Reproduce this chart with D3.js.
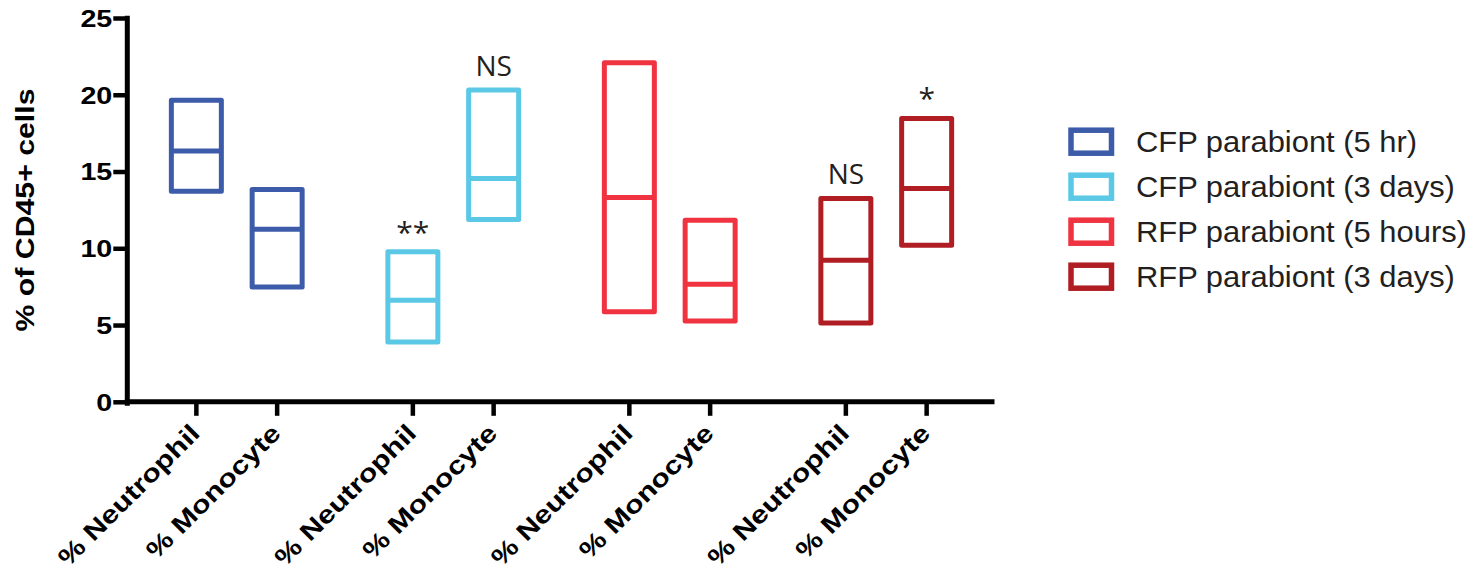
<!DOCTYPE html>
<html>
<head>
<meta charset="utf-8">
<script src="https://cdn.jsdelivr.net/npm/d3@7"></script>
<style>
  html, body { margin: 0; padding: 0; background: #ffffff; }
  svg { display: block; }
</style>
</head>
<body>
<svg id="chart" width="1481" height="569"></svg>
<script>
// ---- data ----
const groups = ["CFP parabiont (5 hr)", "CFP parabiont (3 days)", "RFP parabiont (5 hours)", "RFP parabiont (3 days)"];
const cellTypes = ["% Neutrophil", "% Monocyte"];
// per group: [Neutrophil, Monocyte]
const maxValues = [[19.65, 13.83], [9.77, 20.31], [22.09, 11.83], [13.25, 18.46]];
const medianValues = [[16.33, 11.24], [6.62, 14.55], [13.31, 7.66], [9.22, 13.90]];
const minValues = [[13.72, 7.48], [3.90, 11.88], [5.86, 5.27], [5.14, 10.20]];
const annotations = [["", ""], ["**", "NS"], ["", ""], ["NS", "*"]];
const groupColors = ["#3c5ba9", "#5bc9e6", "#ef3340", "#b01e24"];
const yTicks = [0, 5, 10, 15, 20, 25];
const yLabel = "% of CD45+ cells";

// ---- layout ----
const svg = d3.select("#chart");
const axisX = 127.3, axisY = 401.8, yTop = 18;
const y = d3.scaleLinear().domain([0, 25]).range([axisY, yTop]);
const xGroup = d3.scaleBand().domain(d3.range(groups.length)).range([128.5, 994.5]).padding(0);
const xCell = d3.scalePoint().domain(d3.range(cellTypes.length)).range([0, xGroup.bandwidth()]).padding(0.84);
const xPos = (g, c) => xGroup(g) + xCell(c);
const boxW = 50;
const boldFont = "'Liberation Sans', Arial, Helvetica, sans-serif";

function stretchText(sel, factor) {
  sel.each(function () {
    const len = this.getComputedTextLength();
    d3.select(this).attr("textLength", len * factor).attr("lengthAdjust", "spacingAndGlyphs");
  });
}

// ---- y axis ----
const yAxis = d3.axisLeft(y).tickValues(yTicks).tickSize(14).tickPadding(1).tickFormat(d3.format("d"));
const gy = svg.append("g").attr("transform", `translate(${axisX},0)`).call(yAxis);
gy.select(".domain").remove();
gy.selectAll(".tick line").attr("stroke", "#000").attr("stroke-width", 4.5);
gy.selectAll(".tick text")
  .attr("font-family", boldFont).attr("font-weight", "bold").attr("font-size", 23.5)
  .attr("fill", "#000").attr("dy", "0.36em")
  .call(stretchText, 1.22);
svg.append("line")
  .attr("x1", axisX).attr("x2", axisX).attr("y1", yTop - 2.2).attr("y2", axisY + 4)
  .attr("stroke", "#000").attr("stroke-width", 5);

// ---- x axis ----
svg.append("line")
  .attr("x1", axisX - 2.5).attr("x2", xGroup.range()[1]).attr("y1", axisY).attr("y2", axisY)
  .attr("stroke", "#000").attr("stroke-width", 5);

const cells = [];
groups.forEach((g, gi) => cellTypes.forEach((c, ci) => cells.push({ gi, ci })));

svg.append("g").selectAll("line").data(cells).join("line")
  .attr("x1", d => xPos(d.gi, d.ci)).attr("x2", d => xPos(d.gi, d.ci))
  .attr("y1", axisY).attr("y2", axisY + 14)
  .attr("stroke", "#000").attr("stroke-width", 4.5);

svg.append("g").selectAll("text").data(cells).join("text")
  .attr("transform", d => `translate(${xPos(d.gi, d.ci) + 5},${axisY + 33}) rotate(-45)`)
  .attr("text-anchor", "end")
  .attr("font-family", boldFont).attr("font-weight", "bold").attr("font-size", 25)
  .attr("fill", "#000")
  .text(d => cellTypes[d.ci])
  .call(stretchText, 1.22);

// y axis title
svg.append("text")
  .attr("transform", `translate(33.5,${(88.3 + 331.7) / 2}) rotate(-90)`)
  .attr("text-anchor", "middle")
  .attr("font-family", boldFont).attr("font-weight", "bold").attr("font-size", 25)
  .attr("fill", "#000")
  .text(yLabel)
  .call(stretchText, 1.21);

// ---- boxes ----
const gBoxes = svg.append("g");
cells.forEach(d => {
  const cx = xPos(d.gi, d.ci);
  const col = groupColors[d.gi];
  const yMax = y(maxValues[d.gi][d.ci]);
  const yMin = y(minValues[d.gi][d.ci]);
  const yMed = y(medianValues[d.gi][d.ci]);
  gBoxes.append("rect")
    .attr("x", cx - boxW / 2).attr("y", yMax)
    .attr("width", boxW).attr("height", yMin - yMax)
    .attr("fill", "none").attr("stroke", col).attr("stroke-width", 5)
    .attr("stroke-linejoin", "round");
  gBoxes.append("line")
    .attr("x1", cx - boxW / 2).attr("x2", cx + boxW / 2)
    .attr("y1", yMed).attr("y2", yMed)
    .attr("stroke", col).attr("stroke-width", 5);
  const note = annotations[d.gi][d.ci];
  if (note) {
    const isStar = note.indexOf("*") >= 0;
    gBoxes.append("text")
      .attr("x", cx).attr("y", yMax - (isStar ? 9 : 14))
      .attr("text-anchor", "middle")
      .attr("font-family", "'Open Sans', sans-serif").attr("font-size", isStar ? 30 : 28)
      .attr("fill", "#231f20")
      .text(note);
  }
});

// ---- legend ----
const legendX = 1071, legendY0 = 141.7, legendStep = 45;
const lg = svg.append("g");
groups.forEach((g, i) => {
  const cy = legendY0 + i * legendStep;
  lg.append("rect")
    .attr("x", legendX).attr("y", cy - 11.5)
    .attr("width", 40.5).attr("height", 23)
    .attr("fill", "none").attr("stroke", groupColors[i]).attr("stroke-width", 5.5);
  lg.append("text")
    .attr("x", 1136).attr("y", cy + 10.5)
    .attr("font-family", "'Liberation Sans', Arial, Helvetica, sans-serif")
    .attr("font-size", 30).attr("fill", "#231f20")
    .text(g)
    .call(stretchText, 1.03);
});
</script>
</body>
</html>
